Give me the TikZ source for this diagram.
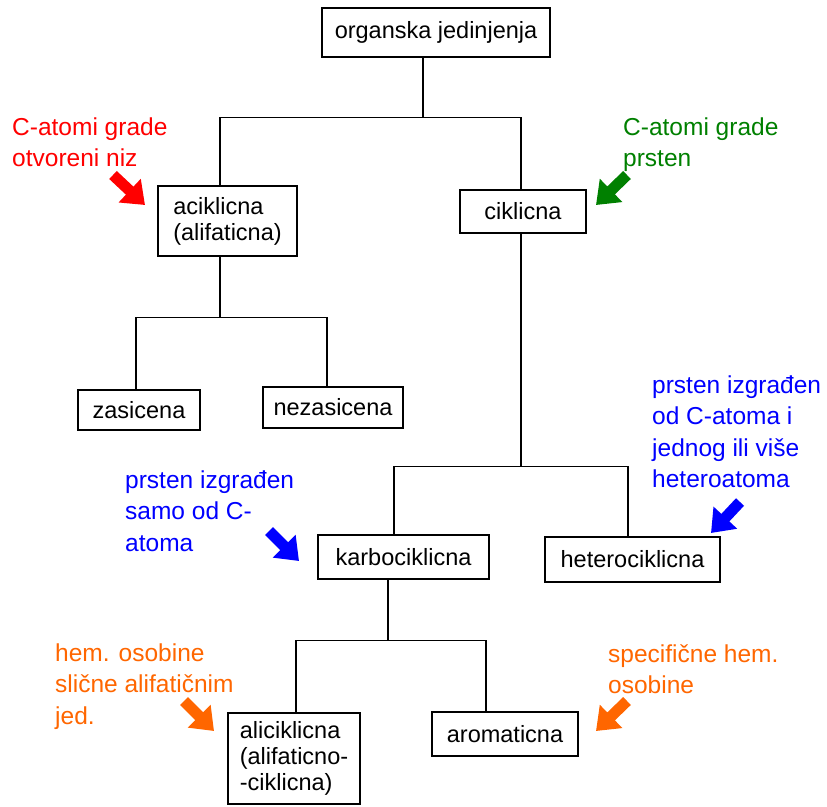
\documentclass[tikz,border=0pt]{standalone}
\usepackage{fontspec}
\setmainfont{Liberation Sans}
\usetikzlibrary{arrows.meta,calc,positioning}
\definecolor{notered}{RGB}{255,0,0}
\definecolor{notegreen}{RGB}{0,128,0}
\definecolor{noteblue}{RGB}{0,0,255}
\definecolor{noteorange}{RGB}{255,102,0}

\begin{document}
\begin{tikzpicture}[x=1pt,y=-1pt]
  \tikzstyle{box}=[draw=black, line width=1.2pt, fill=white, inner sep=0pt, align=left, font=\fontsize{23.5}{26}\selectfont]
  \tikzstyle{note}=[anchor=base west, inner sep=0pt, align=left, font=\fontsize{24.5}{31.5}\selectfont]
  \tikzstyle{tree}=[draw=black, line width=1.2pt]
  \tikzstyle{hint}=[line width=11pt, -{Triangle[length=21pt,width=31pt]}]

  \useasboundingbox (0,0) rectangle (827,806);

  % boxes
  \node [box, minimum width=228pt, minimum height=49pt] (org) at (436,32.5) {organska jedinjenja};
  \node [box, minimum width=139pt, minimum height=70pt] (acik) at (227.5,221) {aciklicna\\(alifaticna)};
  \node [box, minimum width=126pt, minimum height=43pt] (cik) at (523,211.5) {ciklicna};
  \node [box, minimum width=122pt, minimum height=40pt] (zas) at (139,410) {zasicena};
  \node [box, minimum width=140pt, minimum height=41pt] (nezas) at (333,407.5) {nezasicena};
  \node [box, minimum width=171pt, minimum height=44pt] (karbo) at (403.5,557) {karbociklicna};
  \node [box, minimum width=175pt, minimum height=45pt] (hetero) at (632.5,559.5) {heterociklicna};
  \node [box, minimum width=132pt, minimum height=91pt] (alicik) at (294,758.5) {aliciklicna\\(alifaticno-\\-ciklicna)};
  \node [box, minimum width=146pt, minimum height=44pt] (arom) at (505,734) {aromaticna};

  % tree
  \coordinate (j1) at ($(org.south)+(-13,60)$);
  \draw [tree] ($(org.south)+(-13,0)$) -- (j1);
  \draw [tree] ($(acik.north)+(-7.5,0)$) |- (j1) -| ($(cik.north)+(-2,0)$);
  \coordinate (j2) at ($(acik.south)+(-7.5,61)$);
  \draw [tree] ($(acik.south)+(-7.5,0)$) -- (j2);
  \draw [tree] ($(zas.north)+(-3,0)$) |- (j2) -| ($(nezas.north)+(-6,0)$);
  \coordinate (j3) at ($(cik.south)+(-2,233)$);
  \draw [tree] ($(cik.south)+(-2,0)$) -- (j3);
  \draw [tree] ($(karbo.north)+(-9.5,0)$) |- (j3) -| ($(hetero.north)+(-4.5,0)$);
  \coordinate (j4) at ($(karbo.south)+(-15.5,61)$);
  \draw [tree] ($(karbo.south)+(-15.5,0)$) -- (j4);
  \draw [tree] ($(alicik.north)+(2,0)$) |- (j4) -| ($(arom.north)+(-19,0)$);

  % notes (placed by the baseline of their last line)
  \node [note, text=notered] (redlab) at (12,166.5) {C-atomi grade\\otvoreni niz};
  \node [note, text=notegreen] (greenlab) at (623,166.5) {C-atomi grade\\prsten};
  \node [note, text=noteblue] (heterolab) at (652,487.5) {prsten izgrađen\\od C-atoma i\\jednog ili više\\heteroatoma};
  \node [note, text=noteblue] (karbolab) at (125,551) {prsten izgrađen\\samo od C-\\atoma};
  \node [note, text=noteorange] (alilab) at (55,724) {hem. osobine\\slične alifatičnim\\jed.};
  \node [note, text=noteorange] (aromlab) at (608,693.5) {specifične hem.\\osobine};

  % arrows
  \coordinate (redtail) at (113,175);
  \coordinate (redtip) at (145,205);
  \coordinate (greentail) at (627,175);
  \coordinate (greentip) at (596,205);
  \coordinate (heterotail) at (740,502);
  \coordinate (heterotip) at (711,533);
  \coordinate (karbotail) at (269,531);
  \coordinate (karbotip) at (299,561);
  \coordinate (alitail) at (184,701);
  \coordinate (alitip) at (214,731);
  \coordinate (aromtail) at (627,701);
  \coordinate (aromtip) at (596,731);
  \draw [hint, notered] (redtail) -- (redtip);
  \draw [hint, notegreen] (greentail) -- (greentip);
  \draw [hint, noteblue] (heterotail) -- (heterotip);
  \draw [hint, noteblue] (karbotail) -- (karbotip);
  \draw [hint, noteorange] (alitail) -- (alitip);
  \draw [hint, noteorange] (aromtail) -- (aromtip);
\end{tikzpicture}
\end{document}
